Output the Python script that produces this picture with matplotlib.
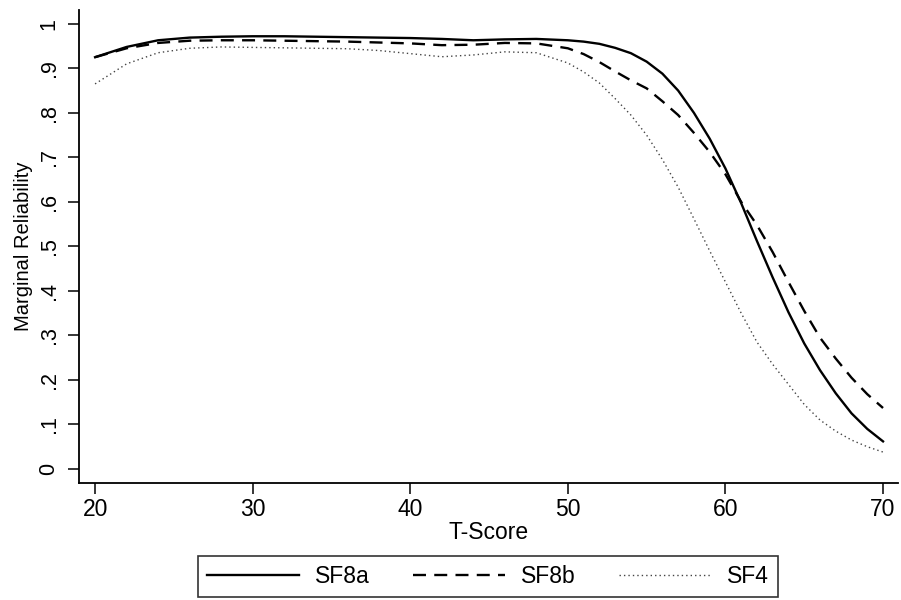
import numpy as np
import matplotlib
matplotlib.use("Agg")
import matplotlib.pyplot as plt

# T-score grid and marginal reliability
tscore = [20, 22, 24, 26, 28, 30, 32, 34, 36, 38, 40, 42, 44, 46, 48, 50,
          51, 52, 53, 54, 55, 56, 57, 58, 59, 60, 61, 62, 63, 64, 65, 66,
          67, 68, 69, 70]
sf8a = [0.925, 0.948, 0.963, 0.969, 0.971, 0.972, 0.972, 0.971, 0.970, 0.969,
        0.968, 0.966, 0.963, 0.965, 0.966, 0.963, 0.960, 0.955, 0.946, 0.934,
        0.915, 0.888, 0.850, 0.800, 0.742, 0.675, 0.597, 0.512, 0.430, 0.352,
        0.282, 0.222, 0.170, 0.125, 0.090, 0.062]
sf8b = [0.925, 0.945, 0.957, 0.962, 0.963, 0.963, 0.962, 0.961, 0.960, 0.958,
        0.956, 0.952, 0.953, 0.957, 0.956, 0.945, 0.932, 0.914, 0.893, 0.873,
        0.855, 0.826, 0.795, 0.755, 0.712, 0.662, 0.600, 0.548, 0.487, 0.420,
        0.355, 0.295, 0.248, 0.205, 0.168, 0.137]
sf4 = [0.865, 0.910, 0.935, 0.945, 0.948, 0.947, 0.946, 0.945, 0.944, 0.940,
       0.933, 0.926, 0.930, 0.937, 0.935, 0.912, 0.892, 0.867, 0.832, 0.795,
       0.750, 0.695, 0.633, 0.562, 0.490, 0.420, 0.350, 0.285, 0.235, 0.190,
       0.145, 0.110, 0.085, 0.065, 0.050, 0.038]
labels = ["SF8a", "SF8b", "SF4"]

xticks = [20, 30, 40, 50, 60, 70]
yticks = np.arange(0, 11) / 10.
ytick_labels = ["0", ".1", ".2", ".3", ".4", ".5", ".6", ".7", ".8", ".9", "1"]

plt.rcParams['font.family'] = ['Liberation Sans', 'DejaVu Sans']

fig = plt.figure(figsize=(9.01, 6.0), dpi=100)
ax = fig.add_axes([79/901., 117/600., 819/901., 473/600.])

ax.plot(tscore, sf8a, color='black', lw=1.7, ls='-', label=labels[0])
ax.plot(tscore, sf8b, color='black', lw=1.7, ls=(0, (5.5, 3.5)), label=labels[1])
ax.plot(tscore, sf4, color='#444444', lw=1.0, ls=(0, (1, 2.2)), label=labels[2])

ax.set_xlim(18.98, 70.95)
ax.set_ylim(-0.0315, 1.031)
ax.set_xticks(xticks)
ax.set_xticklabels([str(t) for t in xticks], fontsize=16.5)
ax.set_yticks(yticks)
ax.set_yticklabels(ytick_labels, fontsize=15.5, rotation=90, va='center')
ax.tick_params(axis='both', length=8, width=1.1, color='black')
ax.tick_params(axis='x', pad=3)
ax.tick_params(axis='y', pad=6)

for s in ['top', 'right']:
    ax.spines[s].set_visible(False)
for s in ['left', 'bottom']:
    ax.spines[s].set_linewidth(1.3)

ax.set_xlabel('T-Score', fontsize=16.5, labelpad=0)
ax.set_ylabel('Marginal Reliability', fontsize=14.5, labelpad=4)

leg = fig.legend(loc='center', bbox_to_anchor=(488/901., 1 - 576.5/600.),
                 ncol=3, fontsize=16.5, handlelength=4.0, handletextpad=0.7,
                 columnspacing=1.9, frameon=True, fancybox=False,
                 borderpad=0.4, borderaxespad=0)
leg.get_frame().set_edgecolor('black')
leg.get_frame().set_linewidth(1.2)

fig.savefig('out.png', dpi=100)
